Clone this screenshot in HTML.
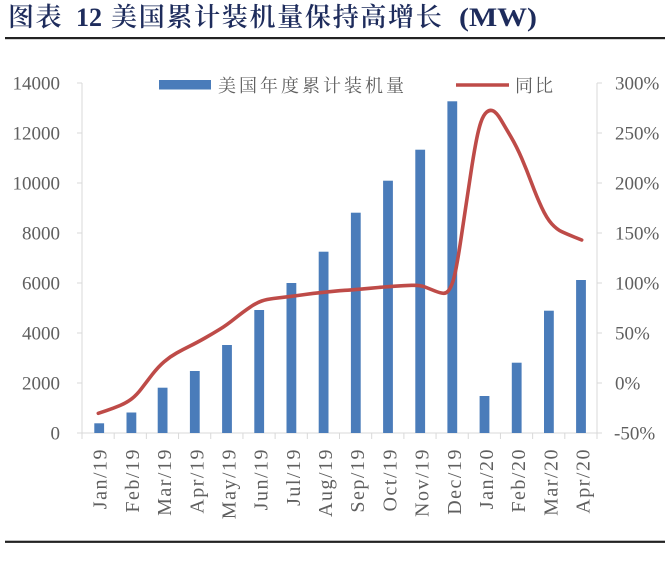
<!DOCTYPE html>
<html><head><meta charset="utf-8">
<style>
html,body{margin:0;padding:0;background:#fff;}
svg{display:block;}
</style></head>
<body>
<svg width="665" height="576" viewBox="0 0 665 576" xmlns="http://www.w3.org/2000/svg">
<rect width="665" height="576" fill="#fff"/>
<g font-family="'Liberation Serif','Noto Serif CJK SC',serif" font-weight="600" fill="#1e2c5c" font-size="26">
<text x="8" y="26" letter-spacing="1.5">图表</text>
<text x="76" y="26">12</text>
<text x="111" y="26" letter-spacing="1.7">美国累计装机量保持高增长</text>
<text x="459" y="26" textLength="78" lengthAdjust="spacingAndGlyphs">(MW)</text>
</g>
<rect x="5" y="37" width="660" height="2.2" fill="#222"/>
<rect x="5" y="540.7" width="660" height="2.2" fill="#222"/>
<rect x="159" y="80" width="52" height="9.5" fill="#4a7cba"/>
<g font-family="'Liberation Serif','Noto Serif CJK SC',serif" font-size="18" fill="#5f5f5f">
<text x="218" y="92" letter-spacing="3">美国年度累计装机量</text>
<text x="515" y="92" letter-spacing="2">同比</text>
</g>
<line x1="456" y1="85" x2="509" y2="85" stroke="#be4b48" stroke-width="3.5"/>
<g stroke="#d9d9d9" stroke-width="1" fill="none">
<line x1="82" y1="83" x2="82" y2="433"/>
<line x1="597" y1="83" x2="597" y2="433"/>
<line x1="77" y1="433" x2="602" y2="433"/>
<path d="M77 83H82M77 133H82M77 183H82M77 233H82M77 283H82M77 333H82M77 383H82"/>
<path d="M597 83H602M597 133H602M597 183H602M597 233H602M597 283H602M597 333H602M597 383H602"/>
<path d="M82 433V439M114.19 433V439M146.38 433V439M178.56 433V439M210.75 433V439M242.94 433V439M275.13 433V439M307.31 433V439M339.5 433V439M371.69 433V439M403.88 433V439M436.06 433V439M468.25 433V439M500.44 433V439M532.63 433V439M564.81 433V439M597 433V439"/>
</g>
<g font-family="'Liberation Serif',serif" font-size="19" fill="#5f5f5f" text-anchor="end">
<text x="60" y="89.5">14000</text>
<text x="60" y="139.5">12000</text>
<text x="60" y="189.5">10000</text>
<text x="60" y="239.5">8000</text>
<text x="60" y="289.5">6000</text>
<text x="60" y="339.5">4000</text>
<text x="60" y="389.5">2000</text>
<text x="60" y="439.5">0</text>
</g>
<g font-family="'Liberation Serif',serif" font-size="19" fill="#5f5f5f">
<text x="615" y="89.5">300%</text>
<text x="615" y="139.5">250%</text>
<text x="615" y="189.5">200%</text>
<text x="615" y="239.5">150%</text>
<text x="615" y="289.5">100%</text>
<text x="615" y="339.5">50%</text>
<text x="615" y="389.5">0%</text>
<text x="614" y="439.5">-50%</text>
</g>
<g fill="#4a7cba">
<rect x="94.3" y="423.3" width="9.8" height="9.7"/>
<rect x="126.5" y="412.5" width="9.8" height="20.5"/>
<rect x="157.7" y="387.7" width="9.8" height="45.3"/>
<rect x="189.9" y="371" width="9.8" height="62"/>
<rect x="222.1" y="345" width="9.8" height="88"/>
<rect x="254.3" y="310" width="9.8" height="123"/>
<rect x="286.5" y="283" width="9.8" height="150"/>
<rect x="318.7" y="251.7" width="9.8" height="181.3"/>
<rect x="350.9" y="212.7" width="9.8" height="220.3"/>
<rect x="383.1" y="180.7" width="9.8" height="252.3"/>
<rect x="415.3" y="149.7" width="9.8" height="283.3"/>
<rect x="447.4" y="101.3" width="9.8" height="331.7"/>
<rect x="479.6" y="396" width="9.8" height="37"/>
<rect x="511.8" y="362.7" width="9.8" height="70.3"/>
<rect x="544" y="310.7" width="9.8" height="122.3"/>
<rect x="576.1" y="280" width="9.8" height="153"/>
</g>
<path fill="none" stroke="#be4b48" stroke-width="3.6" stroke-linecap="round" stroke-linejoin="round" d="M98.3 413.3 L105.8 410.8 Q113.3 408.3 120 405.5 Q126.7 402.7 131.7 398.85 Q136.7 395 141.7 388.35 Q146.7 381.7 152.5 374.2 Q158.3 366.7 164.15 361.7 Q170 356.7 176.65 353 Q183.3 349.3 190 346 Q196.7 342.7 205 338 Q213.3 333.3 220 329.15 Q226.7 325 235 318.35 Q243.3 311.7 250 307.2 Q256.7 302.7 261.7 301 Q266.7 299.3 273.35 298.5 Q280 297.7 288.35 296.7 Q296.7 295.7 305 294.5 Q313.3 293.3 320 292.65 Q326.7 292 333.35 291.35 Q340 290.7 345 290.35 Q350 290 360 289.15 Q370 288.3 378.35 287.5 Q386.7 286.7 395 286.2 Q403.3 285.7 411.65 285.35 Q420 285 425 287 Q430 289 435 291 Q440 293 443 293.25 Q446 293.5 448 291.25 Q450 289 452 284 Q454 279 456.15 267.85 Q458.3 256.7 460.8 240 Q463.3 223.3 465.8 206.65 Q468.3 190 470.8 173.35 Q473.3 156.7 475.8 143.35 Q478.3 130 480.8 122.5 Q483.3 115 486.65 112.15 Q490 109.3 493.35 111 Q496.7 112.7 500.85 119.7 Q505 126.7 510.85 136.7 Q516.7 146.7 521.7 158.35 Q526.7 170 531.7 183.35 Q536.7 196.7 541.7 207.5 Q546.7 218.3 551.7 223.8 Q556.7 229.3 561.7 231.65 Q566.7 234 574.2 237 L581.7 240"/>
<g font-family="'Liberation Serif',serif" font-size="20" fill="#5f5f5f" text-anchor="end" letter-spacing="1.5">
<text transform="translate(106.7,448) rotate(-90)">Jan/19</text>
<text transform="translate(138.9,448) rotate(-90)">Feb/19</text>
<text transform="translate(171.1,448) rotate(-90)">Mar/19</text>
<text transform="translate(203.3,448) rotate(-90)">Apr/19</text>
<text transform="translate(235.4,448) rotate(-90)">May/19</text>
<text transform="translate(267.6,448) rotate(-90)">Jun/19</text>
<text transform="translate(299.8,448) rotate(-90)">Jul/19</text>
<text transform="translate(332,448) rotate(-90)">Aug/19</text>
<text transform="translate(364.2,448) rotate(-90)">Sep/19</text>
<text transform="translate(396.4,448) rotate(-90)">Oct/19</text>
<text transform="translate(428.6,448) rotate(-90)">Nov/19</text>
<text transform="translate(460.8,448) rotate(-90)">Dec/19</text>
<text transform="translate(492.9,448) rotate(-90)">Jan/20</text>
<text transform="translate(525.1,448) rotate(-90)">Feb/20</text>
<text transform="translate(557.3,448) rotate(-90)">Mar/20</text>
<text transform="translate(589.5,448) rotate(-90)">Apr/20</text>
</g>
</svg>
</body></html>
